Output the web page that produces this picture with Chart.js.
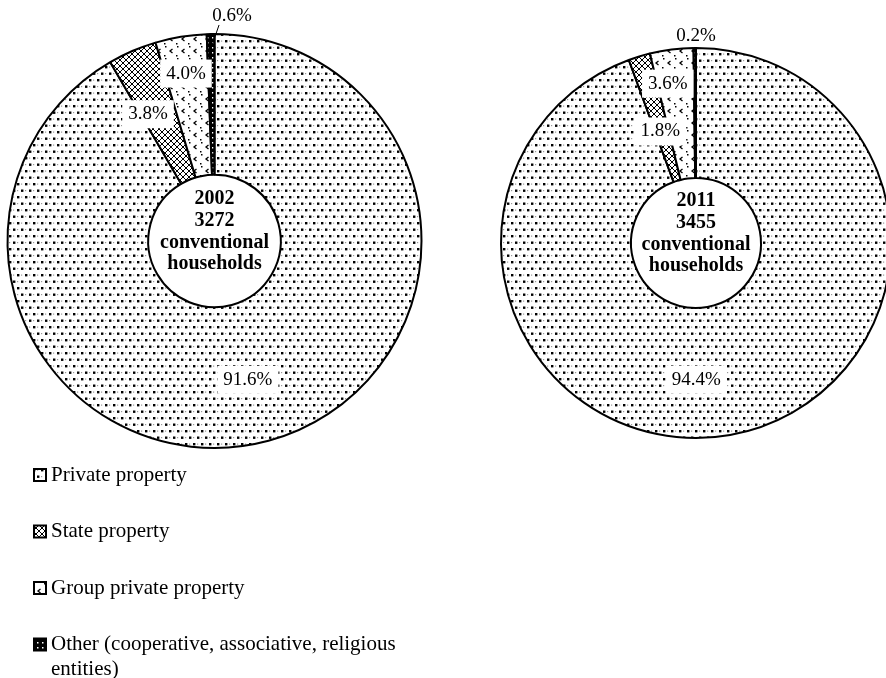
<!DOCTYPE html>
<html>
<head>
<meta charset="utf-8">
<script src="https://cdn.jsdelivr.net/npm/chart.js@4.4.1/dist/chart.umd.min.js"></script>
<style>
  html, body { margin: 0; padding: 0; background: #fff; width: 886px; height: 678px; overflow: hidden; position: relative; }
  #c2002 { position: absolute; left: 0; top: 0; }
  #c2011 { position: absolute; left: 486px; top: 0; }
</style>
</head>
<body>
<canvas id="c2002" width="440" height="678"></canvas>
<canvas id="c2011" width="420" height="678"></canvas>
<script>
// data
const categories = ['Private property', 'State property', 'Group private property', 'Other (cooperative, associative, religious entities)'];
const legendLines = [['Private property'], ['State property'], ['Group private property'], ['Other (cooperative, associative, religious', 'entities)']];
const values2002 = [91.6, 3.8, 4.0, 0.6];
const values2011 = [94.4, 1.8, 3.6, 0.2];
const center2002 = ['2002', '3272', 'conventional', 'households'];
const center2011 = ['2011', '3455', 'conventional', 'households'];

// fill patterns, one per category
function makePattern(kind) {
  const t = document.createElement('canvas');
  const g = t.getContext('2d');
  if (kind === 'dots') {
    t.width = 8; t.height = 13;
    g.fillStyle = '#fff'; g.fillRect(0, 0, 8, 13);
    g.fillStyle = '#000';
    g.fillRect(1, 1, 2.4, 2.4); g.fillRect(5, 7.5, 2.4, 2.4);
    g.fillStyle = '#999';
    g.fillRect(5, 1.5, 1.2, 1.2); g.fillRect(1, 8, 1.2, 1.2);
  } else if (kind === 'cross') {
    t.width = 6; t.height = 6;
    g.fillStyle = '#fff'; g.fillRect(0, 0, 6, 6);
    g.fillStyle = '#000';
    for (let i = 0; i < 6; i++) { g.fillRect(i, i, 1, 1); g.fillRect(5 - i, i, 1, 1); }
  } else if (kind === 'confetti') {
    t.width = 12; t.height = 12;
    g.fillStyle = '#fff'; g.fillRect(0, 0, 12, 12);
    g.strokeStyle = '#000'; g.lineWidth = 1.3;
    g.beginPath(); g.moveTo(4.5, 1); g.lineTo(2, 3); g.lineTo(4.5, 5); g.stroke();
    g.fillStyle = '#000';
    g.fillRect(8, 7, 1.5, 1.5); g.fillRect(9, 10, 1.5, 1.5);
  } else {
    t.width = 5; t.height = 5;
    g.fillStyle = '#000'; g.fillRect(0, 0, 5, 5);
    g.fillStyle = '#fff'; g.fillRect(2, 2, 1.5, 1.5);
  }
  return g.createPattern(t, 'repeat');
}
const fills = [makePattern('dots'), makePattern('cross'), makePattern('confetti'), makePattern('other')];

function textPlugin(cfg) {
  return {
    id: 'pieText',
    afterDatasetsDraw(chart) {
      const ctx = chart.ctx;
      const meta = chart.getDatasetMeta(0);
      const vals = chart.data.datasets[0].data;
      ctx.save();
      ctx.textAlign = 'center';
      ctx.textBaseline = 'middle';
      ctx.font = '19px "Liberation Serif"';
      meta.data.forEach((arc, i) => {
        const p = arc.getProps(['x', 'y', 'startAngle', 'endAngle', 'outerRadius'], true);
        const a = (p.startAngle + p.endAngle) / 2 + cfg.nudge[i] * Math.PI / 180;
        const r = p.outerRadius * cfg.dist[i];
        const x = p.x + Math.cos(a) * r, y = p.y + Math.sin(a) * r + 2;
        const txt = vals[i].toFixed(1) + '%';
        const w = ctx.measureText(txt).width;
        if (cfg.dist[i] < 1) {
          ctx.fillStyle = '#fff';
          ctx.fillRect(x - w / 2 - 6, y - 14, w + 12, 28);
        } else if (cfg.leader[i]) {
          const mid = (p.startAngle + p.endAngle) / 2;
          ctx.strokeStyle = '#000'; ctx.lineWidth = 1;
          ctx.beginPath();
          ctx.moveTo(x - 13, y + 9);
          ctx.lineTo(p.x + Math.cos(mid) * p.outerRadius * 0.93, p.y + Math.sin(mid) * p.outerRadius * 0.93);
          ctx.stroke();
        }
        ctx.fillStyle = '#000';
        ctx.fillText(txt, x, y);
      });
      const c = meta.data[0];
      ctx.font = 'bold 20px "Liberation Serif"';
      cfg.center.forEach((line, k) => ctx.fillText(line, c.x, c.y - 42 + k * 21.7));
      ctx.restore();
    }
  };
}

const legendPlugin = {
  id: 'patternLegend',
  afterDraw(chart) {
    const ctx = chart.ctx;
    ctx.save();
    ctx.font = '21px "Liberation Serif"';
    ctx.textBaseline = 'middle';
    ctx.textAlign = 'left';
    legendLines.forEach((lines, i) => {
      const y = 475 + i * 56.5;
      ctx.fillStyle = fills[i];
      ctx.fillRect(34, y - 6, 12, 12);
      ctx.strokeStyle = '#000'; ctx.lineWidth = 2;
      ctx.strokeRect(34, y - 6, 12, 12);
      ctx.fillStyle = '#000';
      lines.forEach((ln, k) => ctx.fillText(ln, 51, y + k * 25));
    });
    ctx.restore();
  }
};

function makeChart(id, values, radius, cutout, padding, cfg, extra) {
  return new Chart(document.getElementById(id), {
    type: 'doughnut',
    data: {
      labels: categories,
      datasets: [{
        data: values,
        backgroundColor: fills,
        borderColor: '#000',
        borderWidth: 2
      }]
    },
    options: {
      responsive: false,
      animation: false,
      events: [],
      radius: radius,
      cutout: cutout,
      layout: { padding: padding },
      plugins: { legend: { display: false }, tooltip: { enabled: false } }
    },
    plugins: [textPlugin(cfg)].concat(extra)
  });
}

makeChart('c2002', values2002, 207, '32%', { left: 0, right: 11, top: 0, bottom: 196 }, {
  dist: [0.68, 0.70, 0.83, 1.10],
  nudge: [1.4, -3.9, -0.2, 5.5],
  leader: [false, false, false, true],
  center: center2002
}, [legendPlugin]);

makeChart('c2011', values2011, 195, '33.3%', { left: 0, right: 0, top: 0, bottom: 192 }, {
  dist: [0.69, 0.61, 0.84, 1.07],
  nudge: [10, -0.5, -2.7, 0.4],
  leader: [false, false, false, false],
  center: center2011
}, []);
</script>
</body>
</html>
